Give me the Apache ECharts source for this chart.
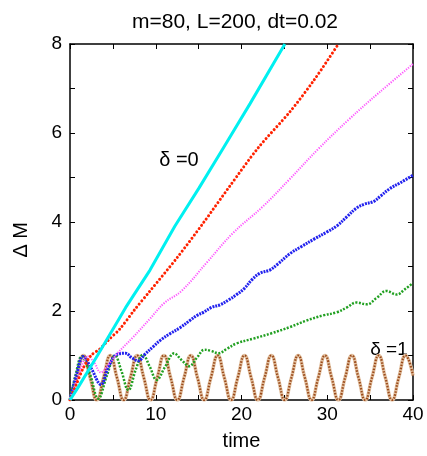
<!DOCTYPE html>
<html>
<head>
<meta charset="utf-8">
<script src="https://cdn.jsdelivr.net/npm/echarts@6/dist/echarts.min.js"></script>
<style>
html,body{margin:0;padding:0;background:#fff;}
#chart{width:427px;height:456px;}
</style>
</head>
<body>
<div id="chart"></div>
<script>
// ---- data (time, ΔM) ----
const titleText = 'm=80, L=200, dt=0.02';
const xTicks = [0, 10, 20, 30, 40];
const yTicks = [0, 2, 4, 6, 8];

const cyanData = [[0,0],[1,0.3],[3.2,1.0],[6.5,2.08],[9.33,2.92],[12.24,3.91],[15,4.75],[17.9,5.67],[21,6.66],[25.06,8.0]];

const redData = [[0,0],[0.7,0.33],[1.5,0.7],[2.45,1.0],[3.5,1.15],[4.5,1.35],[5.83,1.6],[7.5,2.02],[9.33,2.45],[12.5,3.2],[15.55,3.98],[18.65,4.81],[21.96,5.67],[25.66,6.48],[28.5,7.2],[31.3,8.0]];

const magentaData = [[0,0],[1,0.55],[2.1,0.98],[2.8,0.85],[3.6,0.62],[4.5,0.8],[5.4,1.02],[7.4,1.42],[9.3,1.82],[11,2.18],[13,2.45],[16,3.1],[19,3.75],[22.5,4.35],[25.5,4.94],[29,5.65],[32.5,6.3],[36,6.9],[40,7.55]];

const blueData = [[0,0],[0.8,0.6],[1.55,0.98],[2.5,0.7],[3.6,0.35],[4.5,0.75],[5.44,1.02],[6.5,1.05],[7.2,0.95],[7.97,0.88],[8.7,1.02],[9.7,1.2],[10.6,1.35],[11.66,1.49],[12.8,1.62],[14,1.79],[14.8,1.9],[15.55,1.97],[16.5,2.08],[17.5,2.14],[18.5,2.25],[19.44,2.37],[20.3,2.5],[21.2,2.7],[22.16,2.85],[23.3,2.92],[24.2,3.05],[25.66,3.29],[27,3.45],[28.5,3.62],[30,3.78],[31.1,3.91],[32.3,4.12],[33.4,4.31],[34.3,4.4],[35.4,4.46],[36.2,4.58],[37.3,4.75],[38.5,4.88],[40,5.05]];

const greenData = [[0,0],[0.7,0.6],[1.36,0.98],[2.3,0.6],[3.3,0.03],[4.3,0.55],[5.25,1.0],[6.0,0.65],[6.8,0.22],[7.7,0.7],[8.5,1.02],[9.3,0.75],[10.1,0.45],[11.1,0.75],[12.15,1.05],[13.0,0.9],[13.9,0.76],[14.8,0.95],[15.7,1.13],[16.5,1.1],[17.3,1.05],[18.3,1.15],[19.4,1.27],[21.4,1.38],[23.5,1.5],[25.66,1.64],[27.5,1.78],[29.5,1.9],[31.1,1.97],[32.3,2.08],[33.4,2.19],[34.6,2.15],[35.8,2.3],[36.9,2.45],[38.1,2.37],[39.0,2.48],[40,2.63]];

const brownData = [[0,0],[0.78,0.5],[1.57,1],[2.35,0.5],[3.13,0],[3.91,0.5],[4.70,1],[5.48,0.5],[6.26,0],[7.04,0.5],[7.83,1],[8.61,0.5],[9.39,0],[10.17,0.5],[10.96,1],[11.74,0.5],[12.52,0],[13.30,0.5],[14.09,1],[14.87,0.5],[15.65,0],[16.43,0.5],[17.22,1],[18.00,0.5],[18.78,0],[19.56,0.5],[20.35,1],[21.13,0.5],[21.91,0],[22.69,0.5],[23.48,1],[24.26,0.5],[25.04,0],[25.82,0.5],[26.61,1],[27.39,0.5],[28.17,0],[28.95,0.5],[29.74,1],[30.52,0.5],[31.30,0],[32.08,0.5],[32.87,1],[33.65,0.5],[34.43,0],[35.21,0.5],[36.00,1],[36.78,0.5],[37.56,0],[38.34,0.5],[39.13,1],[40.0,0.55]];

const FONT = 'Liberation Sans, Arial, sans-serif';
const chart = echarts.init(document.getElementById('chart'), null, {renderer:'canvas'});

function axisCommon(show) {
  return {
    axisLine: {show: true, onZero: false, lineStyle: {color: '#000', width: 1.5}},
    axisTick: {show: true, inside: true, length: 5, lineStyle: {color: '#000', width: 1}},
    splitLine: {show: false},
    axisLabel: {show: show, color: '#000', fontSize: 19, fontFamily: FONT}
  };
}

function line(data, color, width, type, smooth, z, cap) {
  return {
    type: 'line', data: data, showSymbol: false, symbol: 'none',
    smooth: smooth, clip: true, z: z || 2,
    lineStyle: {color: color, width: width, type: type, cap: cap || 'butt'}
  };
}

const option = {
  animation: false,
  backgroundColor: '#fff',
  title: {
    text: titleText, left: 230, top: 7, textAlign: 'center',
    textStyle: {fontSize: 21, fontWeight: 'normal', color: '#000', fontFamily: FONT}
  },
  grid: {left: 70, right: 14, top: 44, bottom: 48},
  xAxis: [
    Object.assign(axisCommon(true), {
      type: 'value', min: 0, max: 40, interval: 5, position: 'bottom',
      name: 'time', nameLocation: 'middle', nameGap: 31,
      nameTextStyle: {fontSize: 20, color: '#000', fontFamily: FONT},
      axisLabel: {show: true, color: '#000', fontSize: 19, fontFamily: FONT, margin: 5,
        formatter: v => (xTicks.indexOf(v) >= 0 ? String(v) : '')}
    }),
    Object.assign(axisCommon(false), {type: 'value', min: 0, max: 40, interval: 5, position: 'top'})
  ],
  yAxis: [
    Object.assign(axisCommon(true), {
      type: 'value', min: 0, max: 8, interval: 1, position: 'left',
      axisLabel: {show: true, color: '#000', fontSize: 19, fontFamily: FONT, margin: 8,
        formatter: v => (yTicks.indexOf(v) >= 0 ? String(v) : '')}
    }),
    Object.assign(axisCommon(false), {type: 'value', min: 0, max: 8, interval: 1, position: 'right'})
  ],
  graphic: [
    {type: 'text', left: 11, top: 222, rotation: Math.PI / 2, style: {text: 'Δ M', fontSize: 20, fontFamily: FONT, fill: '#000'}},
    {type: 'text', x: 179, y: 160, style: {text: 'δ =0', fontSize: 20, fontFamily: FONT, fill: '#000', align: 'center', verticalAlign: 'middle'}},
    {type: 'text', x: 389, y: 350, style: {text: 'δ =1', fontSize: 19, fontFamily: FONT, fill: '#000', align: 'center', verticalAlign: 'middle'}}
  ],
  series: [
    line(brownData, '#e2c0a0', 3.5, 'solid', true, 2),
    line(brownData, '#9a4a1a', 2.2, [1.5, 1.5], true, 3),
    line(greenData, '#22a022', 2.5, [2, 1.5], 0.4, 4),
    line(blueData, '#2222ee', 3, [2, 1], 0.4, 5),
    line(magentaData, '#ff55ff', 2, [1.2, 1.3], 0.4, 6),
    line(redData, '#ff2200', 3, [0.01, 4], 0.3, 7, 'round'),
    line(cyanData, '#00f0f0', 3, 'solid', false, 8)
  ]
};
chart.setOption(option);
</script>
</body>
</html>
